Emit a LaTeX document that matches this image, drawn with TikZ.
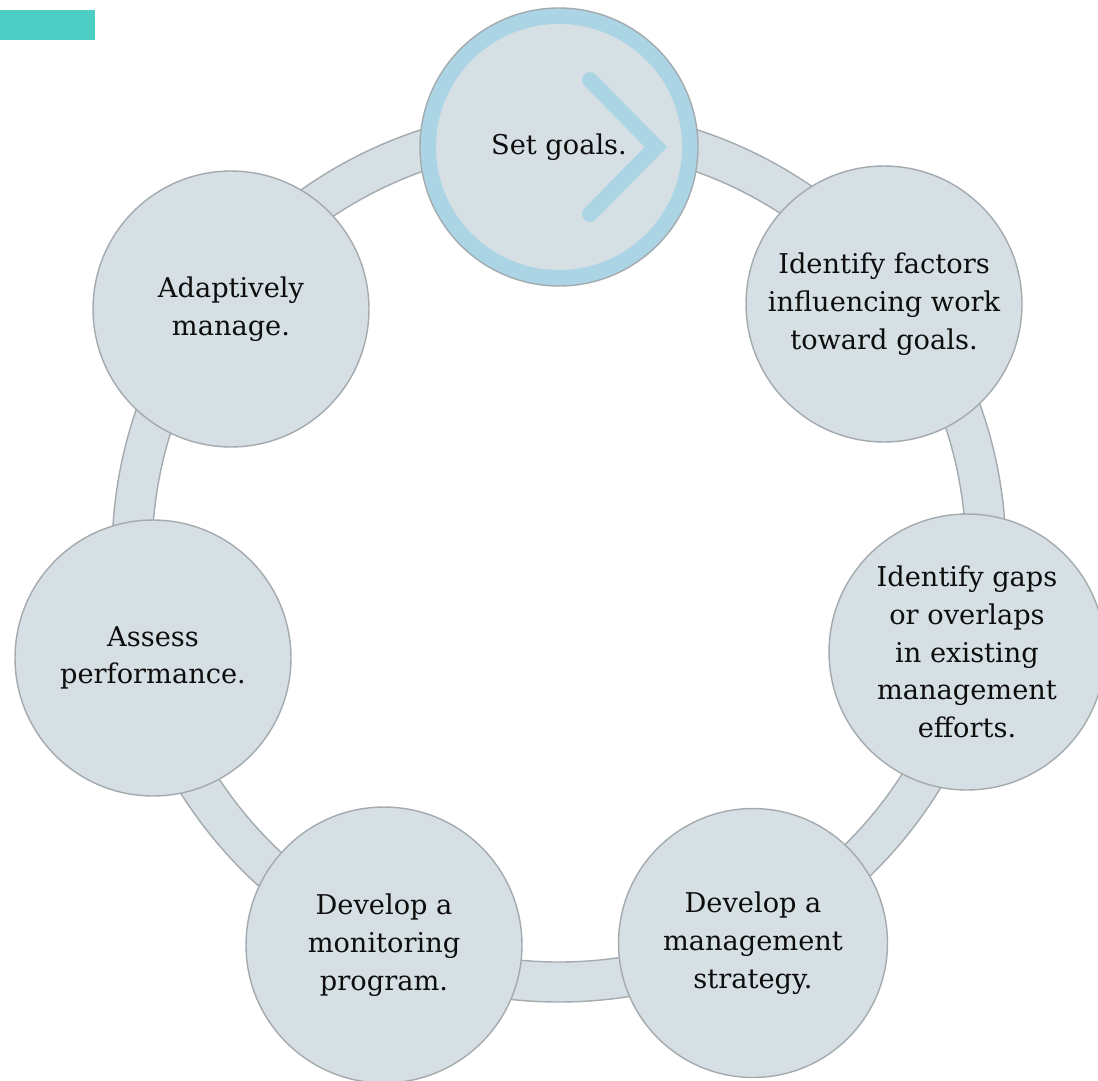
\documentclass[tikz,border=0pt]{standalone}
\usepackage{fontspec}
\setmainfont{DejaVu Serif}
\usetikzlibrary{calc}
\definecolor{stepfill}{HTML}{D6DFE4}
\definecolor{stepline}{HTML}{A4ABAF}
\definecolor{goalblue}{HTML}{ABD5E5}
\definecolor{tagteal}{HTML}{4ECDC4}
\tikzset{
 stepnode/.style={circle, fill=stepfill, draw=stepline, line width=.8pt, minimum size=5.52cm, inner sep=0pt, align=center, text=black!95, font=\fontsize{15.5}{21.5}\selectfont},
}
\begin{document}
\begin{tikzpicture}[x=.02cm, y=-.02cm]
\useasboundingbox (0,0) rectangle (1098,1081);
\fill[tagteal] (0,10) rectangle (95,40);
\coordinate (M) at (559,555);
\draw[stepline, fill=stepfill, even odd rule, line width=.8pt] (M) circle[radius=447] (M) circle[radius=407];
\node[stepnode, draw=goalblue, line width=9pt, minimum size=5.24cm] (goals) at (559,147) {Set goals.};
\draw[stepline, line width=.8pt] (goals.center) circle[radius=139];
\draw[goalblue, line width=9pt, line cap=round] ($(goals.center)+(31,-67)$) --++(66,67) --++(-66,67);
\node[stepnode] (factors) at (884,304) {Identify factors\\influencing work\\toward goals.};
\node[stepnode] (gaps) at (967,652) {Identify gaps\\or overlaps\\in existing\\management\\efforts.};
\node[stepnode, minimum size=5.38cm] (strategy) at (753,943) {Develop a\\management\\strategy.};
\node[stepnode] (monitor) at (384,945) {Develop a\\monitoring\\program.};
\node[stepnode] (assess) at (153,658) {Assess\\performance.};
\node[stepnode] (adapt) at (231,309) {Adaptively\\manage.};
\end{tikzpicture}
\end{document}
